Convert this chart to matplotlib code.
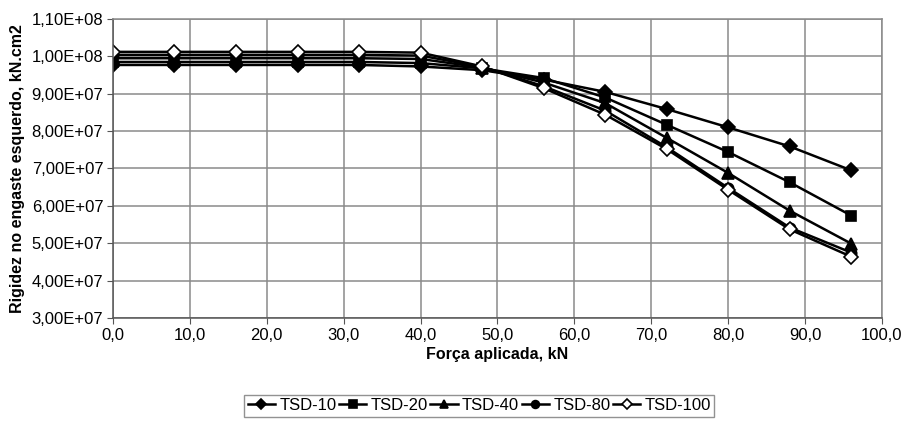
import matplotlib
matplotlib.use("Agg")
import matplotlib.pyplot as plt
from matplotlib.ticker import FuncFormatter, MultipleLocator

plt.rcParams['font.family'] = ['Liberation Sans', 'DejaVu Sans']

# applied load (kN)
forca = [0, 8, 16, 24, 32, 40, 48, 56, 64, 72, 80, 88, 96]

# stiffness at the left support (kN.cm2)
tsd_10 = [9.77e7, 9.77e7, 9.77e7, 9.77e7, 9.77e7, 9.73e7, 9.63e7, 9.38e7,
          9.05e7, 8.59e7, 8.10e7, 7.59e7, 6.95e7]
tsd_20 = [9.85e7, 9.85e7, 9.85e7, 9.85e7, 9.85e7, 9.82e7, 9.68e7, 9.42e7,
          8.90e7, 8.17e7, 7.44e7, 6.63e7, 5.74e7]
tsd_40 = [9.95e7, 9.95e7, 9.95e7, 9.95e7, 9.95e7, 9.93e7, 9.70e7, 9.30e7,
          8.75e7, 7.82e7, 6.88e7, 5.87e7, 4.99e7]
tsd_80 = [1.004e8, 1.004e8, 1.004e8, 1.004e8, 1.004e8, 1.002e8, 9.72e7, 9.20e7,
          8.55e7, 7.57e7, 6.48e7, 5.42e7, 4.75e7]
tsd_100 = [1.012e8, 1.012e8, 1.012e8, 1.012e8, 1.012e8, 1.010e8, 9.73e7, 9.15e7,
           8.44e7, 7.52e7, 6.43e7, 5.37e7, 4.64e7]

series = [
    ("TSD-10", tsd_10, "D", "black", 7),
    ("TSD-20", tsd_20, "s", "black", 7.5),
    ("TSD-40", tsd_40, "^", "black", 8),
    ("TSD-80", tsd_80, "o", "black", 7.5),
    ("TSD-100", tsd_100, "D", "white", 7),
]

fig = plt.figure(figsize=(9.06, 4.21), dpi=100)
ax = fig.add_axes([0.1247, 0.2447, 0.8488, 0.7102])

for nome, valores, marcador, preenchimento, tam in series:
    ax.plot(forca, valores, color="black", lw=1.8, marker=marcador,
            markerfacecolor=preenchimento, markeredgecolor="black",
            markeredgewidth=1.2, markersize=tam, label=nome)

ax.set_xlim(0, 100)
ax.set_ylim(3.0e7, 1.1e8)
ax.xaxis.set_major_locator(MultipleLocator(10))
ax.yaxis.set_major_locator(MultipleLocator(1.0e7))
ax.xaxis.set_major_formatter(FuncFormatter(lambda v, p: f"{v:.1f}".replace('.', ',')))
ax.yaxis.set_major_formatter(FuncFormatter(lambda v, p: f"{v:.2E}".replace('.', ',')))

ax.grid(True, color="#8a8a8a", lw=1.1)
for lado in ["top", "right"]:
    ax.spines[lado].set_color("#8a8a8a")
    ax.spines[lado].set_linewidth(1.1)
for lado in ["left", "bottom"]:
    ax.spines[lado].set_color("#555555")
    ax.spines[lado].set_linewidth(1.1)
ax.tick_params(axis="both", labelsize=12, length=4, color="#555555", pad=3)

ax.set_xlabel("Força aplicada, kN", fontsize=11.5, fontweight="bold", labelpad=3)
ax.set_ylabel("Rigidez no engaste esquerdo, kN.cm2", fontsize=11.5,
              fontweight="bold", labelpad=5)

leg = fig.legend(loc="upper center", bbox_to_anchor=(0.529, 0.062), ncol=5,
                 fontsize=12, frameon=True, fancybox=False, edgecolor="#777777",
                 handlelength=1.65, handletextpad=0.25, columnspacing=0.15,
                 borderpad=0.2, borderaxespad=0, markerscale=0.75)
leg.get_frame().set_linewidth(1.0)

fig.savefig("out.png", dpi=100, facecolor="white")
